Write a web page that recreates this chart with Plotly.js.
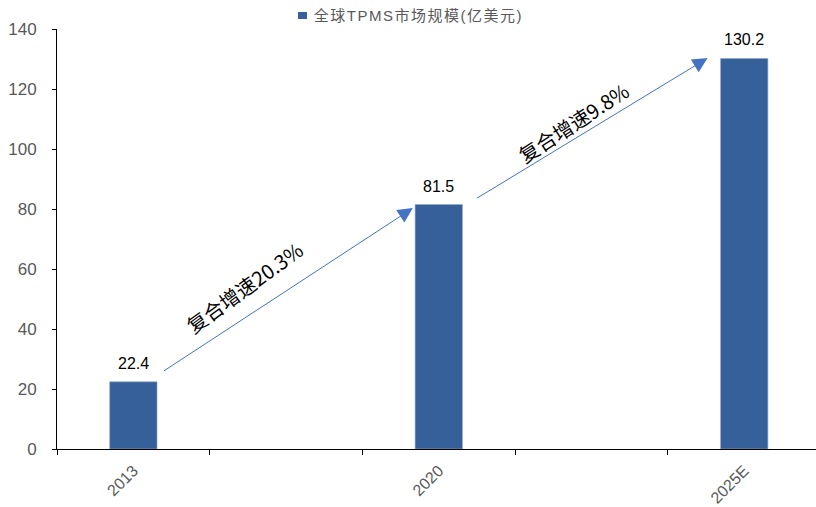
<!DOCTYPE html>
<html>
<head>
<meta charset="utf-8">
<script src="https://cdn.plot.ly/plotly-3.0.1.min.js"></script>
<style>
  html, body { margin: 0; padding: 0; background: #fff; }
  #chart { width: 816px; height: 507px; }
  /* looser spacing for the series key text */
  #chart .annotation[data-index="7"] text { letter-spacing: 1.5px; }
</style>
</head>
<body>
<div id="chart"></div>
<script>
// Global TPMS market size, 100 million USD
const years = ['2013', '2020', '2025E'];
const marketSize = [22.4, 81.5, 130.2];
const seriesName = '全球TPMS市场规模(亿美元)';
const cagrLabels = ['复合增速20.3%', '复合增速9.8%'];

// Spacer categories keep an empty slot between each pair of years
const categories = [];
const values = [];
years.forEach((yr, i) => {
  if (i > 0) { categories.push(' '.repeat(i)); values.push(null); }
  categories.push(yr);
  values.push(marketSize[i]);
});

const barColor = '#36609A';
const cjkFont = 'Noto Sans CJK SC, sans-serif';
const latinFont = 'Liberation Sans, Arial, sans-serif';
const arrowColor = '#4472C4';

const trace = {
  type: 'bar',
  x: categories,
  y: values,
  name: seriesName,
  width: 0.31,
  marker: { color: barColor, line: { color: '#8EA9CF', width: 0.6 } },
  showlegend: false,
  hoverinfo: 'x+y'
};

// value labels above each bar (positioned by category index)
const valueLabels = years.map((yr, i) => ({
  x: categories.indexOf(yr), y: marketSize[i], xref: 'x', yref: 'y',
  text: String(marketSize[i]), showarrow: false,
  yanchor: 'bottom', yshift: 8,
  font: { family: latinFont, size: 16, color: '#000' }
}));

const annotations = valueLabels.concat([
  // growth arrows between bars
  { x: 1.83, y: 80.3, ax: 0.19, ay: 25.7, xref: 'x', yref: 'y', axref: 'x', ayref: 'y',
    showarrow: true, arrowhead: 2, arrowsize: 3, arrowwidth: 1, arrowcolor: arrowColor, text: '' },
  { x: 3.76, y: 130.3, ax: 2.24, ay: 83.3, xref: 'x', yref: 'y', axref: 'x', ayref: 'y',
    showarrow: true, arrowhead: 2, arrowsize: 3, arrowwidth: 1, arrowcolor: arrowColor, text: '' },
  // CAGR labels along the arrows
  { x: 0.725, y: 53.7, xref: 'x', yref: 'y', text: cagrLabels[0], showarrow: false,
    textangle: -36, font: { family: cjkFont, size: 20, color: '#000' } },
  { x: 2.88, y: 109, xref: 'x', yref: 'y', text: cagrLabels[1], showarrow: false,
    textangle: -33, font: { family: cjkFont, size: 20, color: '#000' } },
  // series key at the top (shifted to compensate for the extra letter spacing)
  { x: 0.3347, y: 1.032, xref: 'paper', yref: 'paper', xanchor: 'left', yanchor: 'middle',
    xshift: 12, text: seriesName, showarrow: false,
    font: { family: 'Liberation Sans, ' + cjkFont, size: 15, color: '#595959' } }
]);

const layout = {
  width: 816,
  height: 507,
  margin: { l: 57, r: 0, t: 29, b: 58 },
  paper_bgcolor: '#fff',
  plot_bgcolor: '#fff',
  font: { family: latinFont, color: '#595959' },
  showlegend: false,
  xaxis: {
    type: 'category',
    categoryorder: 'array',
    categoryarray: categories,
    range: [-0.5, 4.47],
    tickson: 'boundaries',
    ticks: 'outside',
    ticklen: 5,
    tickcolor: '#000',
    showline: true,
    linecolor: '#000',
    linewidth: 1,
    showgrid: false,
    zeroline: false,
    tickangle: -45,
    ticklabelstandoff: 5,
    tickfont: { family: latinFont, size: 16, color: '#595959' },
    fixedrange: true
  },
  yaxis: {
    range: [0, 140],
    dtick: 20,
    ticks: 'outside',
    ticklen: 4,
    tickcolor: '#000',
    showline: true,
    linecolor: '#000',
    linewidth: 1,
    showgrid: false,
    zeroline: false,
    ticklabelstandoff: 12,
    tickfont: { family: latinFont, size: 17, color: '#595959' },
    fixedrange: true
  },
  shapes: [
    // key swatch for the series
    { type: 'rect', xref: 'paper', yref: 'paper',
      x0: 0.3175, x1: 0.3294, y0: 1.0238, y1: 1.0405,
      fillcolor: barColor, line: { width: 0 } }
  ],
  annotations: annotations
};

Plotly.newPlot('chart', [trace], layout, { displayModeBar: false, staticPlot: true });
</script>
</body>
</html>
